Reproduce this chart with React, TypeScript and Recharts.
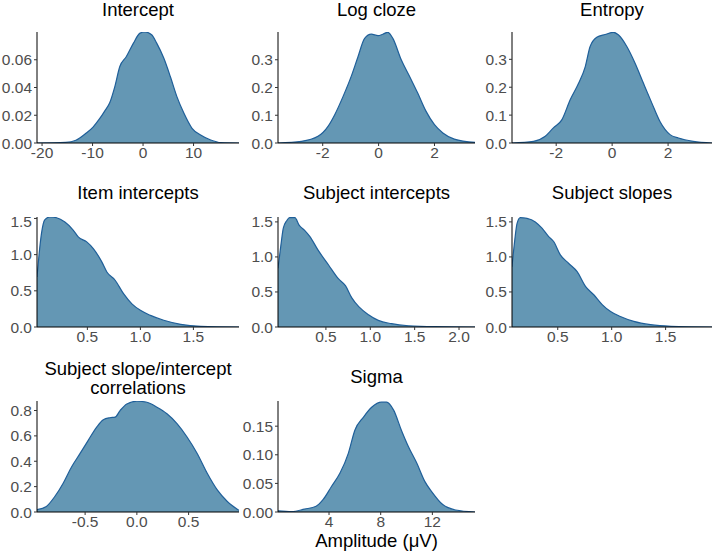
import { AreaChart, Area, XAxis, YAxis } from "recharts";

// density curves
const interceptX = [-21, -15.3, -13.3, -11.3, -9.9, -8.6, -7.6, -6.6, -5.6, -4.6, -3.3, -1.9, -0.6, 0.4, 1.7, 2.7, 4.1, 5.4, 6.7, 8.1, 9.7, 11.4, 13.4, 15.4, 19];
const interceptY = [0, 0.0005, 0.002, 0.007, 0.0115, 0.0175, 0.023, 0.029, 0.0405, 0.0551, 0.0623, 0.072, 0.0792, 0.08, 0.078, 0.072, 0.0612, 0.0479, 0.0334, 0.0214, 0.0106, 0.0058, 0.0022, 0.0003, 0];

const logClozeX = [-3.6, -2.76, -2.17, -1.81, -1.57, -1.27, -0.98, -0.74, -0.5, -0.26, -0.02, 0.15, 0.33, 0.51, 0.81, 1.11, 1.4, 1.7, 2.0, 2.3, 2.71, 3.45];
const logClozeY = [0, 0.006, 0.024, 0.06, 0.102, 0.168, 0.24, 0.31, 0.377, 0.392, 0.387, 0.392, 0.399, 0.377, 0.3, 0.24, 0.18, 0.114, 0.066, 0.036, 0.014, 0.002];

const entropyX = [-3.58, -2.81, -2.39, -2.1, -1.8, -1.5, -1.2, -0.96, -0.79, -0.55, -0.25, 0.05, 0.23, 0.53, 0.82, 1.12, 1.42, 1.71, 2.07, 2.37, 2.9, 3.57];
const entropyY = [0, 0.006, 0.024, 0.054, 0.083, 0.155, 0.214, 0.274, 0.345, 0.379, 0.389, 0.397, 0.387, 0.345, 0.286, 0.214, 0.143, 0.077, 0.03, 0.018, 0.006, 0];

const itemX = [0.025, 0.045, 0.067, 0.098, 0.146, 0.21, 0.288, 0.366, 0.414, 0.494, 0.556, 0.636, 0.684, 0.762, 0.841, 0.92, 1.0, 1.095, 1.22, 1.38, 1.57, 1.93];
const itemY = [0.69, 1.01, 1.29, 1.48, 1.52, 1.51, 1.45, 1.34, 1.245, 1.176, 1.084, 0.9, 0.76, 0.646, 0.46, 0.32, 0.23, 0.16, 0.093, 0.037, 0.01, 0];

const subjIntX = [-0.04, -0.01, 0.02, 0.06, 0.09, 0.15, 0.2, 0.26, 0.32, 0.41, 0.53, 0.64, 0.72, 0.79, 0.87, 0.98, 1.09, 1.24, 1.43, 1.73, 2.18];
const subjIntY = [0.84, 1.14, 1.41, 1.52, 1.56, 1.56, 1.45, 1.38, 1.29, 1.1, 0.885, 0.69, 0.59, 0.42, 0.29, 0.175, 0.094, 0.047, 0.018, 0.004, 0];

const subjSlopeX = [0.076, 0.098, 0.123, 0.153, 0.215, 0.292, 0.354, 0.416, 0.462, 0.524, 0.6, 0.68, 0.757, 0.834, 0.912, 0.99, 1.08, 1.205, 1.36, 1.55, 1.93];
const subjSlopeY = [0.86, 1.19, 1.48, 1.56, 1.55, 1.5, 1.41, 1.29, 1.22, 1.03, 0.91, 0.79, 0.58, 0.46, 0.32, 0.22, 0.15, 0.08, 0.033, 0.01, 0];

const corrX = [-0.965, -0.874, -0.793, -0.712, -0.63, -0.55, -0.47, -0.388, -0.324, -0.26, -0.21, -0.162, -0.097, 0.0, 0.097, 0.194, 0.291, 0.388, 0.485, 0.583, 0.68, 0.777, 0.874, 0.987];
const corrY = [0.018, 0.044, 0.122, 0.227, 0.357, 0.46, 0.565, 0.669, 0.727, 0.743, 0.748, 0.8, 0.852, 0.873, 0.865, 0.826, 0.774, 0.696, 0.591, 0.461, 0.305, 0.174, 0.083, 0.013];

const sigmaX = [0.05, 1.1, 2.1, 3.0, 3.55, 4.2, 4.85, 5.5, 6.0, 6.67, 7.3, 8.06, 8.45, 9.0, 9.6, 10.15, 10.8, 11.4, 12.0, 12.8, 13.8, 15.3];
const sigmaY = [0.002, 0.0006, 0.005, 0.01, 0.022, 0.045, 0.068, 0.103, 0.143, 0.166, 0.183, 0.192, 0.192, 0.178, 0.143, 0.114, 0.085, 0.054, 0.034, 0.013, 0.0035, 0];

const FILL = "#6497b4";
const STROKE = "#1f5f99";
const FONT = "'Liberation Sans', Arial, sans-serif";

// plot rectangles (pixels)
const COLS = [
  [37, 239],
  [278, 475],
  [512, 712],
];
const ROWS = [
  [32, 143],
  [217, 327],
  [401, 512],
];

const YW = 45;
const XH = 25;
const TOP = 5;
const RIGHT = 3;

interface PanelProps {
  xs: number[];
  ys: number[];
  xDomain: [number, number];
  yDomain: [number, number];
  xTicks: number[];
  yTicks: number[];
  xDigits: number;
  yDigits: number;
  col: number;
  row: number;
}

function Panel({ xs, ys, xDomain, yDomain, xTicks, yTicks, xDigits, yDigits, col, row }: PanelProps) {
  const [x0, x1] = COLS[col];
  const [y0, y1] = ROWS[row];
  const data = xs.map((x, i) => ({ x, y: ys[i] }));
  const tickStyle = { fontSize: 15.5, fill: "#4d4d4d", fontFamily: FONT };
  return (
    <div style={{ position: "absolute", left: x0 - YW, top: y0 - TOP }}>
      <AreaChart
        width={x1 - x0 + YW + RIGHT}
        height={y1 - y0 + TOP + XH}
        data={data}
        margin={{ top: TOP, right: RIGHT, left: 0, bottom: 0 }}
      >
        <XAxis
          dataKey="x"
          type="number"
          domain={xDomain}
          allowDataOverflow
          ticks={xTicks}
          tickFormatter={(v: number) => v.toFixed(xDigits)}
          height={XH}
          tick={tickStyle}
          tickSize={3}
          tickMargin={1}
          axisLine={{ stroke: "#000", strokeWidth: 1 }}
          tickLine={{ stroke: "#333" }}
        />
        <YAxis
          type="number"
          domain={yDomain}
          allowDataOverflow
          ticks={yTicks}
          tickFormatter={(v: number) => v.toFixed(yDigits)}
          width={YW}
          tick={tickStyle}
          tickSize={3}
          axisLine={{ stroke: "#000", strokeWidth: 1 }}
          tickLine={{ stroke: "#333" }}
        />
        <Area
          dataKey="y"
          type="monotone"
          fill={FILL}
          fillOpacity={1}
          stroke={STROKE}
          strokeWidth={1.2}
          isAnimationActive={false}
          baseValue={0}
        />
      </AreaChart>
    </div>
  );
}

function Title({ text, col, top }: { text: string; col: number; top: number }) {
  const [x0, x1] = COLS[col];
  return (
    <div
      style={{
        position: "absolute",
        left: x0 - 40,
        width: x1 - x0 + 80,
        top,
        textAlign: "center",
        fontFamily: FONT,
        fontSize: 18.5,
        lineHeight: "20.7px",
        color: "#000",
      }}
    >
      {text}
    </div>
  );
}

export default function App() {
  return (
    <div style={{ position: "absolute", left: 0, top: 0, width: 714, height: 556, background: "#fff" }}>
      <Title text="Intercept" col={0} top={0} />
      <Title text="Log cloze" col={1} top={0} />
      <Title text="Entropy" col={2} top={0} />
      <Title text="Item intercepts" col={0} top={183.3} />
      <Title text="Subject intercepts" col={1} top={183.3} />
      <Title text="Subject slopes" col={2} top={183.3} />
      <div
        style={{
          position: "absolute",
          left: COLS[0][0] - 40,
          width: COLS[0][1] - COLS[0][0] + 80,
          top: 359,
          textAlign: "center",
          fontFamily: FONT,
          fontSize: 18.5,
          lineHeight: "19px",
        }}
      >
        Subject slope/intercept
        <br />
        correlations
      </div>
      <Title text="Sigma" col={1} top={367.3} />

      <Panel xs={interceptX} ys={interceptY} xDomain={[-21, 19]} yDomain={[0, 0.08]} xTicks={[-20, -10, 0, 10]} yTicks={[0, 0.02, 0.04, 0.06]} xDigits={0} yDigits={2} col={0} row={0} />
      <Panel xs={logClozeX} ys={logClozeY} xDomain={[-3.6, 3.45]} yDomain={[0, 0.4]} xTicks={[-2, 0, 2]} yTicks={[0, 0.1, 0.2, 0.3]} xDigits={0} yDigits={1} col={1} row={0} />
      <Panel xs={entropyX} ys={entropyY} xDomain={[-3.58, 3.57]} yDomain={[0, 0.398]} xTicks={[-2, 0, 2]} yTicks={[0, 0.1, 0.2, 0.3]} xDigits={0} yDigits={1} col={2} row={0} />
      <Panel xs={itemX} ys={itemY} xDomain={[0.025, 1.93]} yDomain={[0, 1.52]} xTicks={[0.5, 1, 1.5]} yTicks={[0, 0.5, 1, 1.5]} xDigits={1} yDigits={1} col={0} row={1} />
      <Panel xs={subjIntX} ys={subjIntY} xDomain={[-0.04, 2.18]} yDomain={[0, 1.57]} xTicks={[0.5, 1, 1.5, 2]} yTicks={[0, 0.5, 1, 1.5]} xDigits={1} yDigits={1} col={1} row={1} />
      <Panel xs={subjSlopeX} ys={subjSlopeY} xDomain={[0.076, 1.93]} yDomain={[0, 1.57]} xTicks={[0.5, 1, 1.5]} yTicks={[0, 0.5, 1, 1.5]} xDigits={1} yDigits={1} col={2} row={1} />
      <Panel xs={corrX} ys={corrY} xDomain={[-0.965, 0.987]} yDomain={[0, 0.875]} xTicks={[-0.5, 0, 0.5]} yTicks={[0, 0.2, 0.4, 0.6, 0.8]} xDigits={1} yDigits={1} col={0} row={2} />
      <Panel xs={sigmaX} ys={sigmaY} xDomain={[0.05, 15.3]} yDomain={[0, 0.194]} xTicks={[4, 8, 12]} yTicks={[0, 0.05, 0.1, 0.15]} xDigits={0} yDigits={2} col={1} row={2} />

      <div
        style={{
          position: "absolute",
          left: COLS[1][0] - 40,
          width: COLS[1][1] - COLS[1][0] + 80,
          top: 531,
          textAlign: "center",
          fontFamily: FONT,
          fontSize: 18.5,
          lineHeight: "20.7px",
        }}
      >
        Amplitude (μV)
      </div>
    </div>
  );
}
